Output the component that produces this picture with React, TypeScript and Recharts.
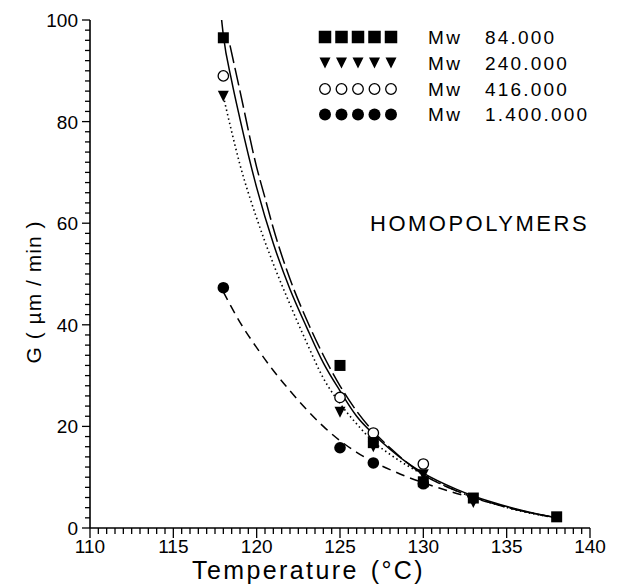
import React from 'react';
import { ComposedChart, Line, Scatter, XAxis, YAxis, Legend } from 'recharts';

const FONT = '"Liberation Sans", Arial, Helvetica, sans-serif';

// ---- measured points (Temperature °C, G µm/min) ----
const sqT = [118, 125, 127, 130, 133, 138];
const sqG = [96.5, 32, 16.8, 9.1, 5.9, 2.2];
const triT = [118, 125, 127, 130, 133];
const triG = [85, 22.8, 16, 10.5, 5.0];
const ocT = [118, 125, 127, 130];
const ocG = [89, 25.7, 18.7, 12.6];
const fcT = [118, 125, 127, 130];
const fcG = [47.3, 15.8, 12.8, 8.7];

// ---- fitted curves ----
const solidT = [117.85, 118, 118.5, 119, 120, 121, 122, 123, 124, 125, 126, 127, 128, 129, 130, 132, 134, 136, 138];
const solidG = [101.5, 97, 88, 80.5, 67, 56, 47, 39.5, 32.5, 27, 22, 18.5, 15.5, 12.9, 10.8, 7.6, 5.2, 3.4, 2.0];
const longT = [118.4, 119, 120, 120.5, 121, 122, 123, 124, 125, 126, 127, 128, 130, 132, 134, 136, 138];
const longG = [95, 86, 71, 65, 59, 49, 41, 34, 28, 23, 19, 15.8, 10.5, 7.3, 5.0, 3.3, 2.0];
const dotT = [118, 118.5, 119, 120, 121, 122, 123, 124, 125, 126, 127, 128, 130, 132, 134, 136, 138];
const dotG = [85, 78, 71.5, 61, 52, 44, 36.5, 29.5, 24.5, 20.5, 17, 14.5, 10.5, 7.3, 5.0, 3.2, 2.0];
const shortT = [118, 119, 120, 121, 122, 123, 124, 125, 126, 127, 128, 129, 130, 132, 134, 136, 138];
const shortG = [46.5, 40.5, 35.5, 31, 27, 23.3, 20, 17.2, 14.9, 13, 11.5, 10.1, 8.9, 6.8, 5.0, 3.3, 2.0];

// ---- texts ----
const mwPrefix = 'Mw';
const mwValues = ['84.000', '240.000', '416.000', '1.400.000'];
const xMajorTicks = [110, 115, 120, 125, 130, 135, 140];
const yMajorTicks = [0, 20, 40, 60, 80, 100];
const xTitle = 'Temperature';
const xUnit = '(°C)';
const yTitle = 'G ( µm / min )';
const note = 'HOMOPOLYMERS';

const zip = (t: number[], g: number[]) => t.map((x, i) => ({ x, g: g[i] }));

const xTicks: number[] = [];
for (let v = 110; v <= 140.001; v += 0.5) xTicks.push(Math.round(v * 10) / 10);
const yTicks: number[] = [];
for (let v = 0; v <= 100; v += 2) yTicks.push(v);

const W = 609;
const H = 578;

const XTick = (props: any) => {
  const { x, y, payload } = props;
  const v = payload.value;
  const major = xMajorTicks.includes(v);
  return (
    <g>
      <line x1={x} x2={x} y1={y} y2={y + (major ? 10 : 6)} stroke="#000" strokeWidth={1.3} />
      {major && (
        <text x={x} y={y + 25} textAnchor="middle" fontSize={19} fontFamily={FONT} fill="#000">
          {v}
        </text>
      )}
    </g>
  );
};

const YTick = (props: any) => {
  const { x, y, payload } = props;
  const v = payload.value;
  const major = yMajorTicks.includes(v);
  return (
    <g>
      <line x1={x} x2={x - (major ? 8 : 5)} y1={y} y2={y} stroke="#000" strokeWidth={1.3} />
      {major && (
        <text x={x - 12} y={y + 7} textAnchor="end" fontSize={19} fontFamily={FONT} fill="#000">
          {v}
        </text>
      )}
    </g>
  );
};

const Square = ({ cx, cy, s = 11 }: any) => (
  <rect x={cx - s / 2} y={cy - s / 2} width={s} height={s} fill="#000" />
);
const TriDown = ({ cx, cy, s = 11 }: any) => (
  <path d={`M${cx - s / 2},${cy - s / 2} L${cx + s / 2},${cy - s / 2} L${cx},${cy + s / 2} Z`} fill="#000" />
);
const OpenCircle = ({ cx, cy, r = 5.2 }: any) => (
  <circle cx={cx} cy={cy} r={r} fill="#fff" stroke="#000" strokeWidth={1.3} />
);
const FilledCircle = ({ cx, cy, r = 5.8 }: any) => <circle cx={cx} cy={cy} r={r} fill="#000" />;

const legendRows = [29, 55, 81, 106.5];
const legendMarkerX = [317, 333.5, 350, 366.5, 383];

const Overlay = () => (
  <svg width={W} height={H} style={{ position: 'absolute', left: 0, top: 0 }}>
    {legendRows.map((ry, i) => (
      <g key={i}>
        {legendMarkerX.map((mx, j) => {
          if (i === 0) return <Square key={j} cx={mx} cy={ry} s={12.5} />;
          if (i === 1) return <TriDown key={j} cx={mx} cy={ry} s={11} />;
          if (i === 2) return <OpenCircle key={j} cx={mx} cy={ry} r={5.3} />;
          return <FilledCircle key={j} cx={mx} cy={ry} r={6} />;
        })}
        <text x={420} y={ry + 6.5} fontSize={19} fontFamily={FONT} letterSpacing={2.5} fill="#000">
          {mwPrefix}
        </text>
        <text x={477} y={ry + 6.5} fontSize={19} fontFamily={FONT} letterSpacing={2.2} fill="#000">
          {mwValues[i]}
        </text>
      </g>
    ))}
    <text x={362} y={223} fontSize={22} fontFamily={FONT} letterSpacing={2.5} fill="#000">
      {note}
    </text>
    <text x={184} y={571} fontSize={25} fontFamily={FONT} letterSpacing={2.4} fill="#000">
      {xTitle}
      <tspan dx={12}>{xUnit}</tspan>
    </text>
    <text
      x={25}
      y={284}
      fontSize={21}
      fontFamily={FONT}
      letterSpacing={1}
      textAnchor="middle"
      dominantBaseline="central"
      transform="rotate(-90, 25, 284)"
      fill="#000"
    >
      {yTitle}
    </text>
  </svg>
);

export default function App() {
  return (
    <div style={{ width: W, height: H, position: 'relative', background: '#fff' }}>
      <ComposedChart width={W} height={H} margin={{ top: 12, right: 27, bottom: 0, left: 0 }}>
        <XAxis
          dataKey="x"
          type="number"
          domain={[110, 140]}
          allowDataOverflow
          ticks={xTicks}
          interval={0}
          tickSize={0}
          tickMargin={0}
          tickLine={false}
          tick={<XTick />}
          height={58}
          axisLine={{ stroke: '#000', strokeWidth: 1.6 }}
        />
        <YAxis
          dataKey="g"
          type="number"
          domain={[0, 100]}
          allowDataOverflow
          ticks={yTicks}
          interval={0}
          tickSize={0}
          tickMargin={0}
          tickLine={false}
          tick={<YTick />}
          width={82}
          axisLine={{ stroke: '#000', strokeWidth: 1.6 }}
        />
        <Line data={zip(shortT, shortG)} dataKey="g" type="monotone" stroke="#000" strokeWidth={1.5} strokeDasharray="9 6" dot={false} isAnimationActive={false} />
        <Line data={zip(dotT, dotG)} dataKey="g" type="monotone" stroke="#000" strokeWidth={1.6} strokeDasharray="1.5 3" dot={false} isAnimationActive={false} />
        <Line data={zip(longT, longG)} dataKey="g" type="monotone" stroke="#000" strokeWidth={1.5} strokeDasharray="18 5" dot={false} isAnimationActive={false} />
        <Line data={zip(solidT, solidG)} dataKey="g" type="monotone" stroke="#000" strokeWidth={1.5} dot={false} isAnimationActive={false} />
        <Scatter data={zip(fcT, fcG)} dataKey="g" shape={(p: any) => <FilledCircle cx={p.cx} cy={p.cy} />} isAnimationActive={false} />
        <Scatter data={zip(triT, triG)} dataKey="g" shape={(p: any) => <TriDown cx={p.cx} cy={p.cy} />} isAnimationActive={false} />
        <Scatter data={zip(ocT, ocG)} dataKey="g" shape={(p: any) => <OpenCircle cx={p.cx} cy={p.cy} />} isAnimationActive={false} />
        <Scatter data={zip(sqT, sqG)} dataKey="g" shape={(p: any) => <Square cx={p.cx} cy={p.cy} />} isAnimationActive={false} />
        <Legend
          layout="vertical"
          align="center"
          verticalAlign="middle"
          wrapperStyle={{ position: 'absolute', left: 0, top: 0, width: W, height: H, pointerEvents: 'none' }}
          content={() => <Overlay />}
        />
      </ComposedChart>
    </div>
  );
}
